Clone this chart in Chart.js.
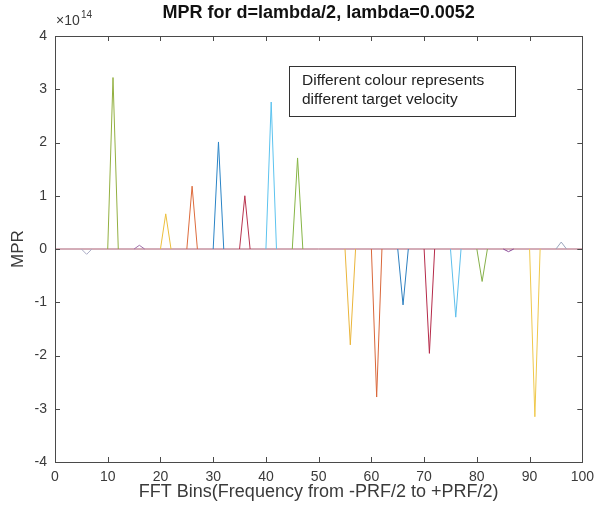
<!DOCTYPE html>
<html>
<head>
<meta charset="utf-8">
<script src="https://cdn.jsdelivr.net/npm/chart.js@4/dist/chart.umd.min.js"></script>
<style>
  body { margin: 0; background: #fff; }
</style>
</head>
<body>
<canvas id="mprChart" width="601" height="512"></canvas>
<script>
// FFT bin of each target's peak, its MPR value (x 1e14) and the line colour
const spikeBins = [6, 11, 16, 21, 26, 31, 36, 41, 46, 56, 61, 66, 71, 76, 81, 86, 91, 96];
const spikePeaks = [-0.1, 3.22, 0.07, 0.66, 1.18, 2.01, 1.0, 2.76, 1.71, -1.8, -2.78, -1.05, -1.96, -1.28, -0.61, -0.05, -3.15, 0.13];
const spikeColors = ['#a9aac4', '#93b041', '#a070aa', '#ecbf3c', '#dd6b3c', '#2a84c6', '#b8334e', '#5cc3ef',
  '#86b545', '#eab53a', '#d9673a', '#2d7fbf', '#b52a49', '#5ebfec', '#86b04a', '#8a4a98', '#efc84a', '#9aa6bd'];
const xTicks = [0, 10, 20, 30, 40, 50, 60, 70, 80, 90, 100];
const yTicks = [-4, -3, -2, -1, 0, 1, 2, 3, 4];
const zeroLine = [0, 100];

const FONT = '"Liberation Sans", Arial, Helvetica, sans-serif';
const INK = '#3a3a3a';

const datasets = spikeBins.map((bin, i) => ({
  data: [
    { x: bin - 1, y: 0 },
    { x: bin, y: spikePeaks[i] },
    { x: bin + 1, y: 0 }
  ],
  borderColor: spikeColors[i],
  borderWidth: 1,
  pointRadius: 0,
  tension: 0
}));

// the last drawn series lies over the common zero baseline
datasets.push({
  data: zeroLine.map(x => ({ x: x, y: 0 })),
  borderColor: '#a85a70',
  borderWidth: 1,
  pointRadius: 0
});

// box, inward ticks and the extra texts, like a MATLAB axes
const matlabFrame = {
  id: 'matlabFrame',
  afterDraw(chart) {
    const ctx = chart.ctx;
    const a = chart.chartArea;
    const xs = chart.scales.x;
    const ys = chart.scales.y;
    const t = 5;
    ctx.save();
    ctx.strokeStyle = '#4a4a4a';
    ctx.lineWidth = 1;
    ctx.beginPath();
    xTicks.forEach(v => {
      const px = Math.round(xs.getPixelForValue(v)) + 0.5;
      ctx.moveTo(px, a.bottom); ctx.lineTo(px, a.bottom - t);
      ctx.moveTo(px, a.top); ctx.lineTo(px, a.top + t);
    });
    yTicks.forEach(v => {
      const py = Math.round(ys.getPixelForValue(v)) + 0.5;
      ctx.moveTo(a.left, py); ctx.lineTo(a.left + t, py);
      ctx.moveTo(a.right, py); ctx.lineTo(a.right - t, py);
    });
    ctx.stroke();
    ctx.strokeRect(Math.round(a.left) + 0.5, Math.round(a.top) + 0.5,
      Math.round(a.right - a.left), Math.round(a.bottom - a.top));

    // title
    ctx.fillStyle = '#111';
    ctx.textAlign = 'center';
    ctx.textBaseline = 'middle';
    ctx.font = 'bold 18px ' + FONT;
    ctx.fillText('MPR for d=lambda/2, lambda=0.0052', (a.left + a.right) / 2, 13);

    // exponent
    ctx.fillStyle = INK;
    ctx.textAlign = 'left';
    ctx.font = '14px ' + FONT;
    ctx.fillText('\u00d710', a.left + 1, 21);
    ctx.font = '10px ' + FONT;
    ctx.fillText('14', a.left + 26, 15);

    // axis titles
    ctx.textAlign = 'center';
    ctx.font = '18px ' + FONT;
    ctx.fillText('FFT Bins(Frequency from -PRF/2 to +PRF/2)', (a.left + a.right) / 2, 492);
    ctx.font = '17px ' + FONT;
    ctx.save();
    ctx.translate(18, (a.top + a.bottom) / 2);
    ctx.rotate(-Math.PI / 2);
    ctx.fillText('MPR', 0, 0);
    ctx.restore();

    // annotation box
    ctx.strokeStyle = '#333';
    ctx.strokeRect(289.5, 66.5, 226, 50);
    ctx.fillStyle = '#222';
    ctx.textAlign = 'left';
    ctx.font = '15.5px ' + FONT;
    ctx.fillText('Different colour represents', 302, 81);
    ctx.fillText('different target velocity', 302, 100);
    ctx.restore();
  }
};

new Chart(document.getElementById('mprChart'), {
  type: 'line',
  data: { datasets: datasets },
  options: {
    responsive: false,
    animation: false,
    parsing: true,
    layout: { padding: { top: 36, right: 15, left: 0, bottom: 0 } },
    plugins: {
      legend: { display: false },
      tooltip: { enabled: false }
    },
    scales: {
      x: {
        type: 'linear',
        min: 0,
        max: 100,
        afterFit: scale => { scale.height = 50; },
        afterBuildTicks: scale => { scale.ticks = xTicks.map(v => ({ value: v })); },
        grid: { display: false, drawTicks: false },
        border: { display: false },
        ticks: { color: INK, padding: 7, maxRotation: 0, font: { family: FONT, size: 14 } }
      },
      y: {
        type: 'linear',
        min: -4,
        max: 4,
        afterFit: scale => { scale.width = 55; },
        afterBuildTicks: scale => { scale.ticks = yTicks.map(v => ({ value: v })); },
        grid: { display: false, drawTicks: false },
        border: { display: false },
        ticks: { color: INK, padding: 8, font: { family: FONT, size: 14 } }
      }
    }
  },
  plugins: [matlabFrame]
});
</script>
</body>
</html>
